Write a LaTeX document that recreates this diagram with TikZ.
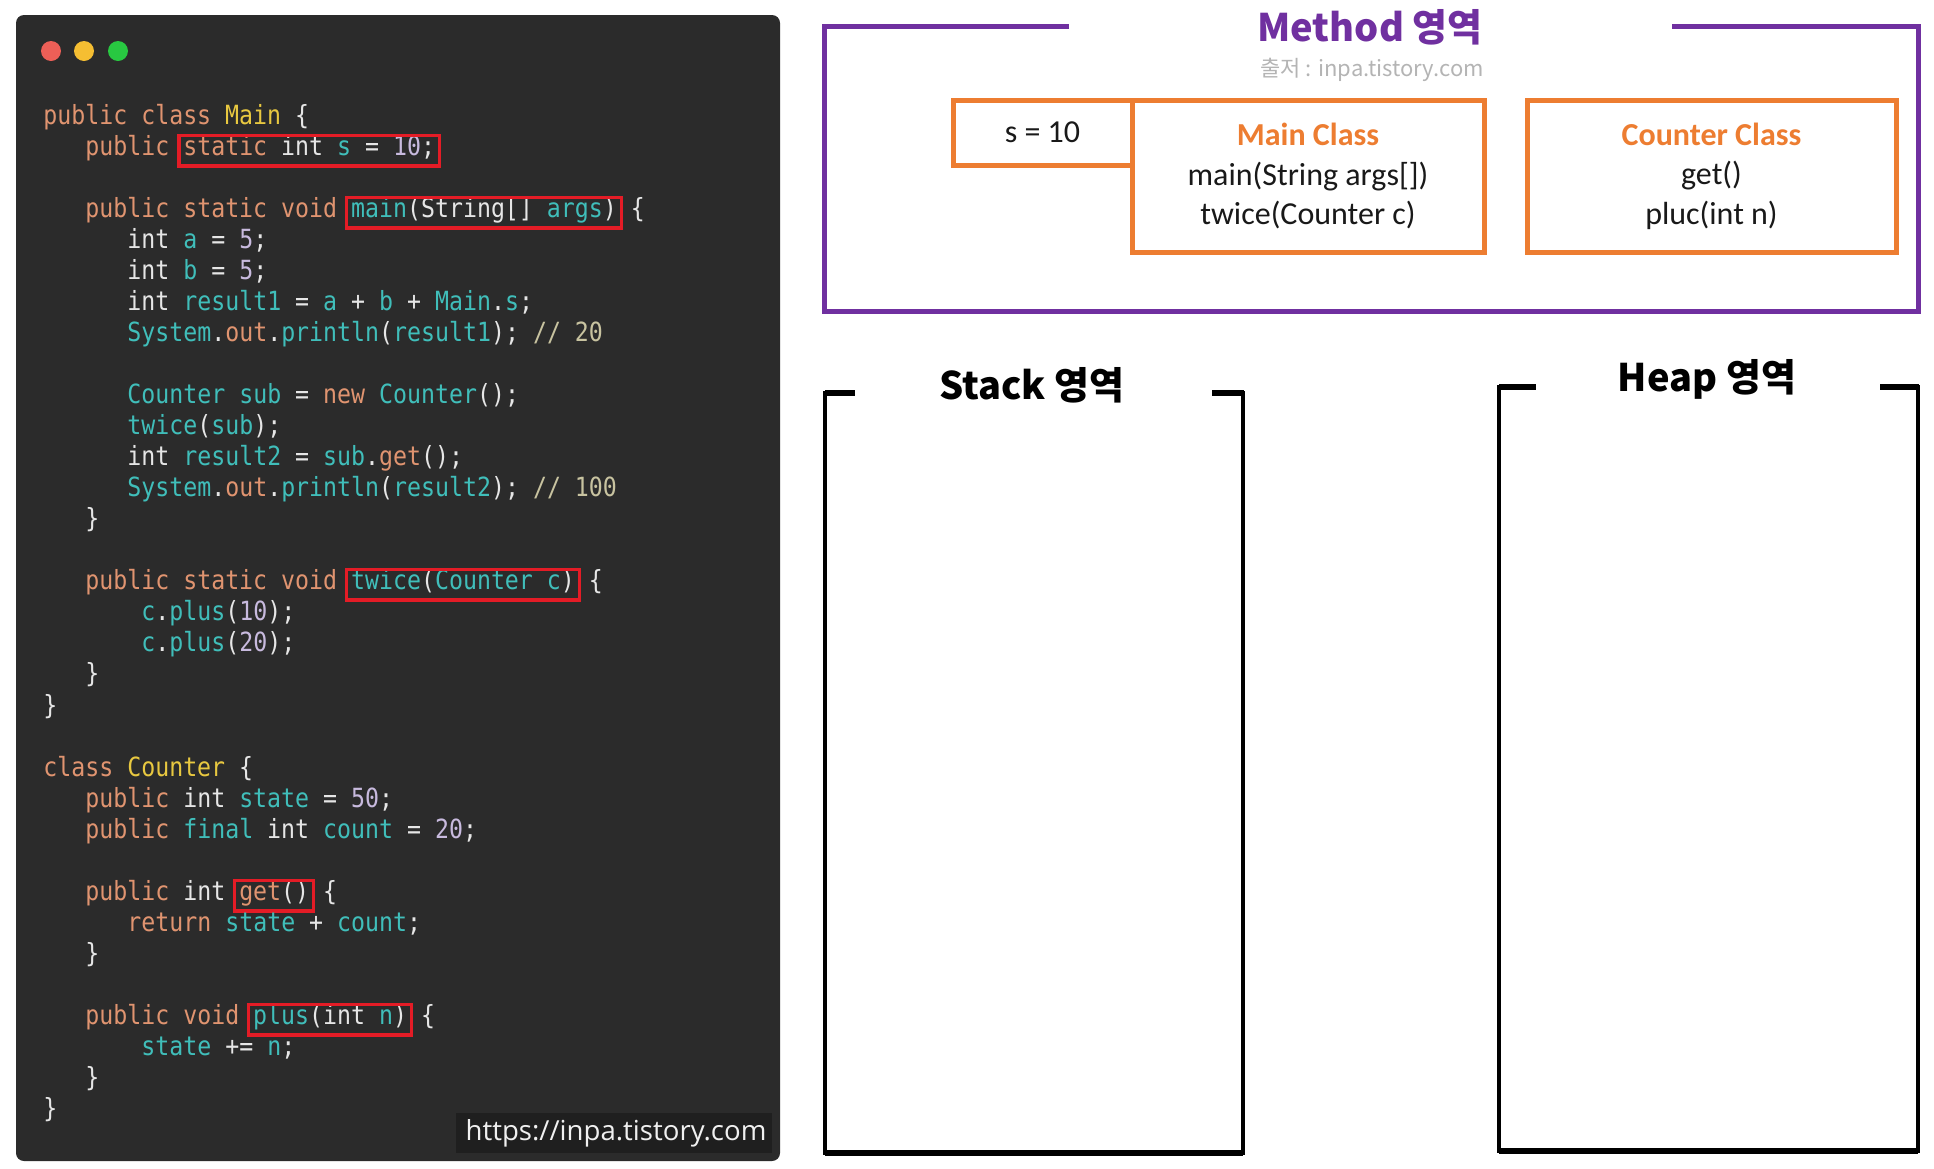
\documentclass[tikz,border=0pt]{standalone}
\usepackage{fontspec}
\setmonofont[FakeStretch=0.88]{DejaVu Sans Mono}
\newfontfamily\korfont{Noto Sans CJK KR}
\newfontfamily\boxfont{Carlito}
\newfontfamily\webfont{Open Sans}
\usepackage{xcolor}
\usepackage{tikz}
\usetikzlibrary{positioning}
\definecolor{codebg}{RGB}{43,43,43}
\definecolor{codetext}{RGB}{230,230,230}
\definecolor{kworange}{RGB}{224,148,112}
\definecolor{idteal}{RGB}{64,190,186}
\definecolor{clyellow}{RGB}{232,200,64}
\definecolor{numlilac}{RGB}{200,186,222}
\definecolor{cmtgray}{RGB}{200,195,160}
\definecolor{hlred}{RGB}{228,28,38}
\definecolor{methpurple}{RGB}{112,48,160}
\definecolor{boxorange}{RGB}{237,125,49}
\definecolor{srcgray}{RGB}{180,180,180}
\newcommand{\kw}[1]{\textcolor{kworange}{#1}}
\newcommand{\id}[1]{\textcolor{idteal}{#1}}
\newcommand{\cl}[1]{\textcolor{clyellow}{#1}}
\newcommand{\nm}[1]{\textcolor{numlilac}{#1}}
\newcommand{\cm}[1]{\textcolor{cmtgray}{#1}}
\setlength{\fboxrule}{1.7pt}
\setlength{\fboxsep}{1.4pt}
% red frame that keeps the line width unchanged
\newcommand{\hl}[1]{\kern-3.1pt\relax\fcolorbox{hlred}{codebg}{\rule[-3pt]{0pt}{10.6pt}\smash{#1}}\kern-3.1pt\relax}

\begin{document}
\begin{tikzpicture}[x=0.5pt, y=-0.5pt,
  code/.style={anchor=base west, inner sep=0pt, text=codetext,
    font=\ttfamily\frenchspacing\fontsize{13.2}{15}\selectfont},
  dot/.style={circle, inner sep=0pt, minimum size=10pt},
  obox/.style={draw=boxorange, line width=2.5pt, align=center, inner sep=2pt, outer sep=0pt,
    font=\boxfont\fontsize{16}{19.75}\selectfont, text=black!90},
  areatitle/.style={font=\korfont\bfseries\fontsize{19}{22}\selectfont, inner sep=1pt},
  bracket/.style={line width=2pt, black},
  stub/.style={line width=3pt, black}
]
  \fill[white] (0,0) rectangle (1934,1168);
  \useasboundingbox (0,0) rectangle (1934,1168);

  % code window
  \fill[codebg, rounded corners=4pt] (16,15) rectangle (780,1161);
  \node[dot, fill={rgb,255:red,237;green,95;blue,87}] (dred) at (51,51) {};
  \node[dot, fill={rgb,255:red,245;green,190;blue,50}] (dyellow) at (84,51) {};
  \node[dot, fill={rgb,255:red,40;green,200;blue,65}] (dgreen) at (118,51) {};

  \begin{scope}[yshift=-1.2pt]
  \node[code] (l0) at (43,122) {\kw{public class} \cl{Main} \{};
  \node[code] (l1) at (85,153) {\kw{public} \hl{\kw{static} int \id{s} = \nm{10};}};
  \node[code] (l3) at (85,215) {\kw{public static void} \hl{\id{main}(String[] \id{args})} \{};
  \node[code] (l4) at (127,246) {int \id{a} = \nm{5};};
  \node[code] (l5) at (127,277) {int \id{b} = \nm{5};};
  \node[code] (l6) at (127,308) {int \id{result1} = \id{a} + \id{b} + \id{Main}.\id{s};};
  \node[code] (l7) at (127,339) {\id{System}.\kw{out}.\id{println}(\id{result1}); \cm{// 20}};
  \node[code] (l9) at (127,401) {\id{Counter sub} = \kw{new} \id{Counter}();};
  \node[code] (l10) at (127,432) {\id{twice}(\id{sub});};
  \node[code] (l11) at (127,463) {int \id{result2} = \id{sub}.\kw{get}();};
  \node[code] (l12) at (127,494) {\id{System}.\kw{out}.\id{println}(\id{result2}); \cm{// 100}};
  \node[code] (l13) at (85,525) {\}};
  \node[code] (l15) at (85,587) {\kw{public static void} \hl{\id{twice}(\id{Counter c})} \{};
  \node[code] (l16) at (141,618) {\id{c}.\id{plus}(\nm{10});};
  \node[code] (l17) at (141,649) {\id{c}.\id{plus}(\nm{20});};
  \node[code] (l18) at (85,680) {\}};
  \node[code] (l19) at (43,712) {\}};
  \node[code] (l21) at (43,774) {\kw{class} \cl{Counter} \{};
  \node[code] (l22) at (85,805) {\kw{public} int \id{state} = \nm{50};};
  \node[code] (l23) at (85,836) {\kw{public} \id{final} int \id{count} = \nm{20};};
  \node[code] (l25) at (85,898) {\kw{public} int \hl{\kw{get}()} \{};
  \node[code] (l26) at (127,929) {\kw{return} \id{state} + \id{count};};
  \node[code] (l27) at (85,960) {\}};
  \node[code] (l29) at (85,1022) {\kw{public void} \hl{\id{plus}(int \id{n})} \{};
  \node[code] (l30) at (141,1053) {\id{state} += \id{n};};
  \node[code] (l31) at (85,1084) {\}};
  \node[code] (l32) at (43,1115) {\}};
  \end{scope}

  \fill[black!88] (456,1113) rectangle (772,1153);
  \node[font=\webfont\fontsize{13.8}{16}\selectfont, text=white!94!black] (wmark) at (616,1133)
    {https://inpa.tistory.com};

  % method area
  \draw[methpurple, line width=2.5pt] (1069,26) -- (824,26) -- (824,311) -- (1918,311)
    -- (1918,26) -- (1672,26);
  \node[areatitle, text=methpurple] (mtitle) at (1370,27) {Method 영역};
  \node[font=\korfont\fontsize{11}{13}\selectfont, text=srcgray] (msrc) at (1372,70)
    {출저 : inpa.tistory.com};

  \node[obox, minimum width=89.5pt, minimum height=32.5pt] (sval) at (1042.5,132.5) {s = 10};
  \node[obox, anchor=north west, minimum width=176pt, minimum height=76pt] (mainc)
    at (sval.north east)
    {{\bfseries\color{boxorange}Main Class}\\ main(String args[])\\ twice(Counter c)};
  \node[obox, right=21.5pt of mainc, minimum width=184.5pt, minimum height=76pt] (counterc)
    {{\bfseries\color{boxorange}Counter Class}\\ get()\\ pluc(int n)};

  % stack area
  \draw[bracket] (855,393) -- (825,393) -- (825,1153) -- (1243,1153) -- (1243,393) -- (1212,393);
  \draw[stub] (825,393) -- (855,393) (1212,393) -- (1244,393) (825,1153) -- (1243,1153);
  \node[areatitle] (stitle) at (1032,385) {Stack 영역};

  % heap area
  \draw[bracket] (1536,387) -- (1499,387) -- (1499,1151) -- (1918,1151) -- (1918,387) -- (1880,387);
  \draw[stub] (1499,387) -- (1536,387) (1880,387) -- (1919,387) (1499,1151) -- (1918,1151);
  \node[areatitle] (htitle) at (1707,379) {Heap 영역};
\end{tikzpicture}
\end{document}
